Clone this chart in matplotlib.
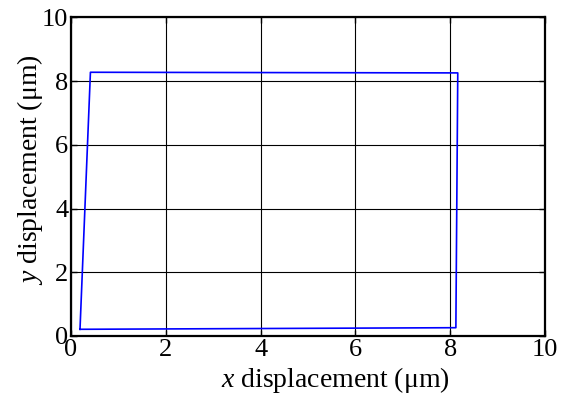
import matplotlib
matplotlib.use("Agg")
import matplotlib.pyplot as plt

# Stage trajectory (closed square scan), micrometres
x_um = [0.19, 8.12, 8.16, 0.41, 0.19]
y_um = [0.21, 0.26, 8.26, 8.28, 0.21]
ticks = [0, 2, 4, 6, 8, 10]

plt.rcParams['font.family'] = ['Liberation Serif', 'DejaVu Serif']
plt.rcParams['mathtext.fontset'] = 'custom'
plt.rcParams['mathtext.rm'] = 'Liberation Serif'
plt.rcParams['mathtext.it'] = 'Liberation Serif:italic'

fig = plt.figure(figsize=(5.63, 4.03), dpi=100)
ax = fig.add_axes([0.1261, 0.1663, 0.968 - 0.1261, 0.9566 - 0.1663])

ax.plot(x_um, y_um, color='#0000ff', lw=1.2, zorder=3)

ax.set_xlim(0, 10)
ax.set_ylim(0, 10)
ax.set_xticks(ticks)
ax.set_yticks(ticks)
ax.grid(True, color='black', lw=0.8, linestyle='-')
ax.set_axisbelow(True)
for s in ax.spines.values():
    s.set_linewidth(1.6)
ax.tick_params(direction='in', length=4, width=1, labelsize=19, pad=2,
               top=True, right=True)

ax.set_xlabel(r'$x$ displacement (μm)', fontsize=20)
ax.set_ylabel(r'$y$ displacement (μm)', fontsize=20)
ax.xaxis.set_label_coords(0.557, -0.138)
ax.xaxis.label.set_va('center')
ax.yaxis.set_label_coords(-0.0865, 0.521)
ax.yaxis.label.set_va('center')
ax.yaxis.label.set_ha('center')

fig.savefig('out.png', dpi=100)
